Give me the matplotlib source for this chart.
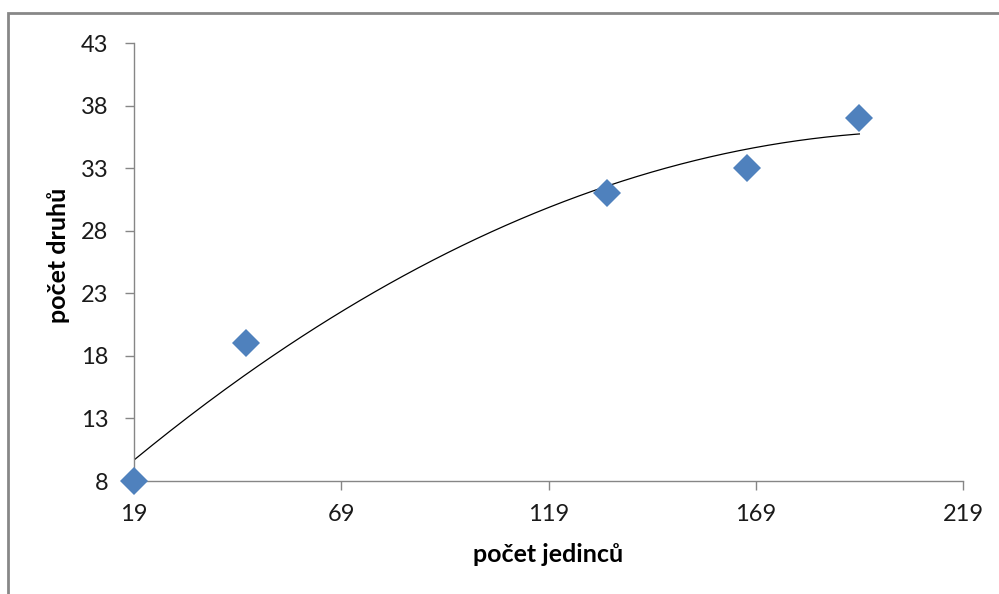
import numpy as np
import matplotlib
matplotlib.use("Agg")
import matplotlib.pyplot as plt
from matplotlib.patches import Rectangle

# data
jedincu = [19, 46, 133, 167, 194]
druhu = [8, 19, 31, 33, 37]
x_ticks = [19, 69, 119, 169, 219]
y_ticks = [8, 13, 18, 23, 28, 33, 38, 43]
x_label = "počet jedinců"
y_label = "počet druhů"

plt.rcParams['font.family'] = ['Lato', 'DejaVu Sans']

W, H = 999, 594
fig = plt.figure(figsize=(W / 100, H / 100), dpi=100)
fig.patch.set_facecolor('white')

# outer chart border (gray)
fig.add_artist(Rectangle((8 / W, -0.05), 1.1, (H - 13) / H + 0.05,
                         transform=fig.transFigure, fill=False,
                         edgecolor='#878787', linewidth=2.0))

ax = fig.add_axes([134 / W, 1 - 481 / H, (963 - 134) / W, (481 - 43) / H])

# polynomial trendline (2nd order)
coef = np.polyfit(jedincu, druhu, 2)
xs = np.linspace(min(jedincu), max(jedincu), 200)
ax.plot(xs, np.polyval(coef, xs), color='black', linewidth=0.9, zorder=2)

ax.plot(jedincu, druhu, linestyle='none', marker='D', markersize=14.5,
        color='#4F81BD', markeredgewidth=0, zorder=3, clip_on=False)

ax.set_xlim(19, 219)
ax.set_ylim(8, 43)
ax.set_xticks(x_ticks)
ax.set_yticks(y_ticks)
ax.set_xticklabels([str(v) for v in x_ticks])
ax.set_yticklabels([str(v) for v in y_ticks])

for s in ['top', 'right']:
    ax.spines[s].set_visible(False)
for s in ['left', 'bottom']:
    ax.spines[s].set_color('#868686')
    ax.spines[s].set_linewidth(1.0)

ax.tick_params(axis='both', direction='out', length=6.5, width=1.0,
               color='#868686', labelsize=17, labelcolor='#1a1a1a')
ax.tick_params(axis='x', pad=10)
ax.tick_params(axis='y', pad=12)

fig.text(548 / W, 1 - 555 / H, x_label, ha='center', va='center',
         fontsize=18, fontweight='bold', color='black')
fig.text(58 / W, 1 - 255 / H, y_label, ha='center', va='center',
         rotation=90, fontsize=18, fontweight='bold', color='black')

fig.savefig('out.png', dpi=100)
